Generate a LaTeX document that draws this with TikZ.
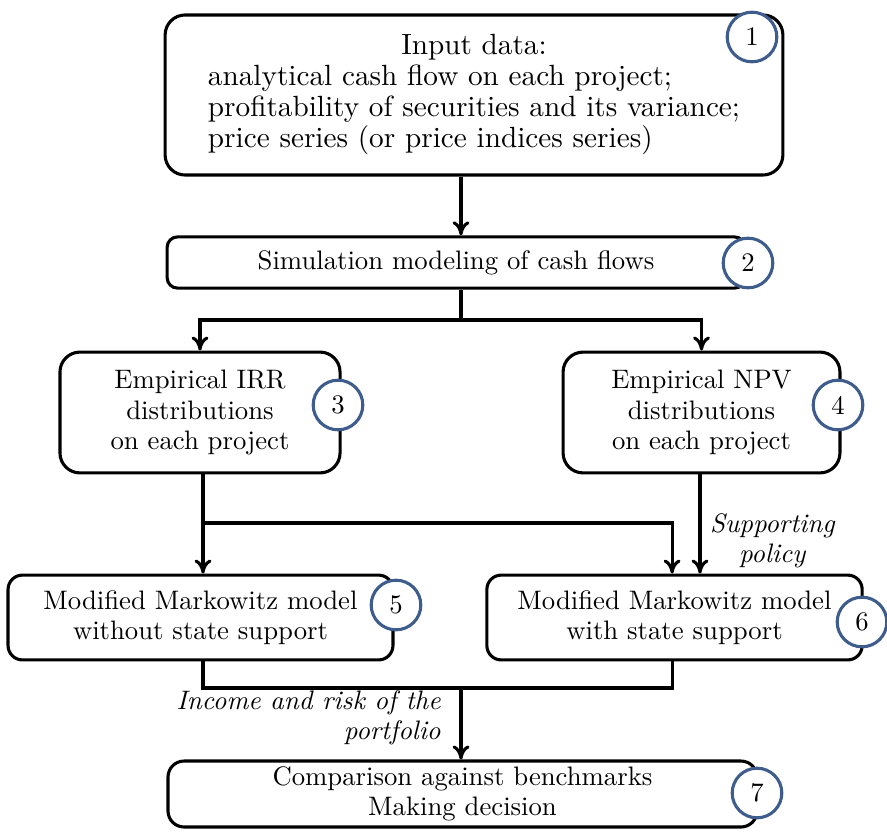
\documentclass[tikz,border=0pt]{standalone}
\usepackage{tikz}
\usetikzlibrary{arrows.meta}

\definecolor{numblue}{RGB}{62,92,140}

\tikzset{
	blk/.style={draw, line width=1.1pt, rounded corners=0.25cm, align=center, inner sep=2pt,
		font=\fontsize{9.5}{10.8}\selectfont},
	num/.style={circle, draw=numblue, line width=1.1pt, fill=white, minimum size=0.62cm,
		inner sep=0pt, font=\fontsize{9.5}{10.8}\selectfont},
	lbl/.style={font=\fontsize{9.5}{10.8}\selectfont\itshape, inner sep=1pt},
	link/.style={line width=1.1pt},
	flow/.style={link, -{To[length=5pt,width=6pt]}}
}

\begin{document}
\begin{tikzpicture}[x=0.0125cm, y=-0.0125cm]
	\useasboundingbox (0,0) rectangle (887,839);
	% boxes
	\node [blk, font=\fontsize{10.4}{10.9}\selectfont, minimum width=7.72cm, minimum height=2cm] (box1) at (474,95)
		{\begin{tabular}{@{}l@{}}\multicolumn{1}{@{}c@{}}{Input data:}\\
		analytical cash flow on each project;\\
		profitability of securities and its variance;\\
		price series (or price indices series)\end{tabular}};
	\node [blk, rounded corners=0.13cm, minimum width=7.22cm, minimum height=0.64cm] (box2) at (456,262.5)
		{Simulation modeling of cash flows};
	\node [blk, minimum width=3.5cm, minimum height=1.51cm] (box3) at (200,412.5)
		{Empirical IRR\\ distributions\\ on each project};
	\node [blk, minimum width=3.46cm, minimum height=1.51cm] (box4) at (701.5,412.5)
		{Empirical NPV\\ distributions\\ on each project};
	\node [blk, rounded corners=0.18cm, minimum width=4.81cm, minimum height=1.06cm] (box5) at (200.5,617.5)
		{Modified Markowitz model\\ without state support};
	\node [blk, rounded corners=0.18cm, minimum width=4.69cm, minimum height=1.06cm] (box6) at (674.5,617.5)
		{Modified Markowitz model\\ with state support};
	\node [blk, rounded corners=0.2cm, minimum width=7.36cm, minimum height=0.8cm] (box7) at (462.5,794)
		{Comparison against benchmarks\\ Making decision};
	% numbers
	\node [num] (num1) at (752,37) {1};
	\node [num] (num2) at (748,263) {2};
	\node [num] (num3) at (338,405) {3};
	\node [num] (num4) at (838,405) {4};
	\node [num] (num5) at (396,605) {5};
	\node [num] (num6) at (862,622) {6};
	\node [num] (num7) at (757,793) {7};
	% connectors
	\coordinate (split1) at (461,320);
	\coordinate (split2) at (203,523);
	\coordinate (merge) at (461,688);
	\draw [flow] (box2.north |- box1.south) ++(5,0) coordinate (out1) -- (out1 |- box2.north);
	\draw [link] (box2.south -| split1) -- (split1);
	\draw [flow] (split1) -| (box3.north);
	\draw [flow] (split1) -| (box4.north);
	\draw [link] (box3.south -| split2) -- (split2);
	\draw [flow] (split2) -- (split2 |- box5.north);
	\draw [flow] (split2) -| ([xshift=-0.03cm]box6.north);
	\draw [flow] (box4.south -| 700,0) -- (box6.north -| 700,0)
		node [lbl, midway, right=2pt, align=center, yshift=-6pt] {Supporting\\ policy};
	\draw [link] (box5.south -| split2) |- (merge) -| ([xshift=-0.03cm]box6.south);
	\draw [flow] (merge) -- (merge |- box7.north);
	\node [lbl, align=right, anchor=east] (inc) at (444,718) {Income and risk of the\\ portfolio};
\end{tikzpicture}
\end{document}
